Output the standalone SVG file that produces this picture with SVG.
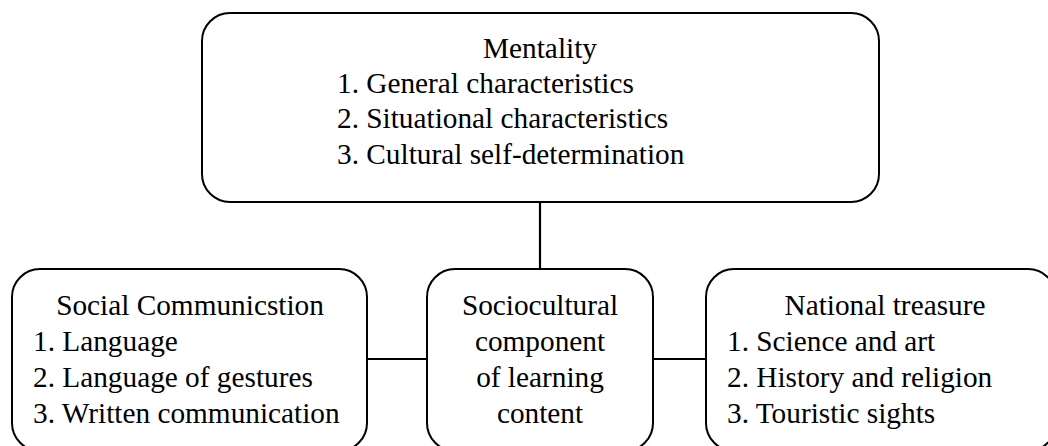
<svg xmlns="http://www.w3.org/2000/svg" width="1048" height="446" viewBox="0 0 1048 446">
<style>
.box{fill:none;stroke:#000;stroke-width:2}
text{font-family:"Liberation Serif","Times New Roman",serif !important;font-size:29.3px;fill:#000}
.c{text-anchor:middle}
</style>
<rect width="1048" height="446" fill="#fff"/>
<g id="connectors" stroke="#000" stroke-width="2.2" fill="none">
<line x1="540" y1="202" x2="540" y2="269"/>
<line x1="367" y1="359" x2="427" y2="359"/>
<line x1="653" y1="359" x2="706" y2="359"/>
</g>
<g id="mentality">
<rect class="box" x="202" y="13" width="677" height="189" rx="28"/>
<text class="c" x="540" y="58" style="font-family:'Liberation Serif',serif">Mentality</text>
<text x="337" y="93" style="font-family:'Liberation Serif',serif">1. General characteristics</text>
<text x="337" y="128" style="font-family:'Liberation Serif',serif">2. Situational characteristics</text>
<text x="337" y="164" style="font-family:'Liberation Serif',serif">3. Cultural self-determination</text>
</g>
<g id="social">
<rect class="box" x="12" y="269" width="355" height="182" rx="28"/>
<text class="c" x="190" y="315" style="font-family:'Liberation Serif',serif">Social Communicstion</text>
<text x="33" y="351" style="font-family:'Liberation Serif',serif">1. Language</text>
<text x="33" y="387" style="font-family:'Liberation Serif',serif">2. Language of gestures</text>
<text x="33" y="423" style="font-family:'Liberation Serif',serif">3. Written communication</text>
</g>
<g id="center">
<rect class="box" x="427" y="269" width="226" height="182" rx="28"/>
<text class="c" x="540" y="315" style="font-family:'Liberation Serif',serif">Sociocultural</text>
<text class="c" x="540" y="351" style="font-family:'Liberation Serif',serif">component</text>
<text class="c" x="540" y="387" style="font-family:'Liberation Serif',serif">of learning</text>
<text class="c" x="540" y="423" style="font-family:'Liberation Serif',serif">content</text>
</g>
<g id="national">
<rect class="box" x="706" y="269" width="350" height="182" rx="28"/>
<text class="c" x="885" y="315" style="font-family:'Liberation Serif',serif">National treasure</text>
<text x="727" y="351" style="font-family:'Liberation Serif',serif">1. Science and art</text>
<text x="727" y="387" style="font-family:'Liberation Serif',serif">2. History and religion</text>
<text x="727" y="423" style="font-family:'Liberation Serif',serif">3. Touristic sights</text>
</g>
</svg>
